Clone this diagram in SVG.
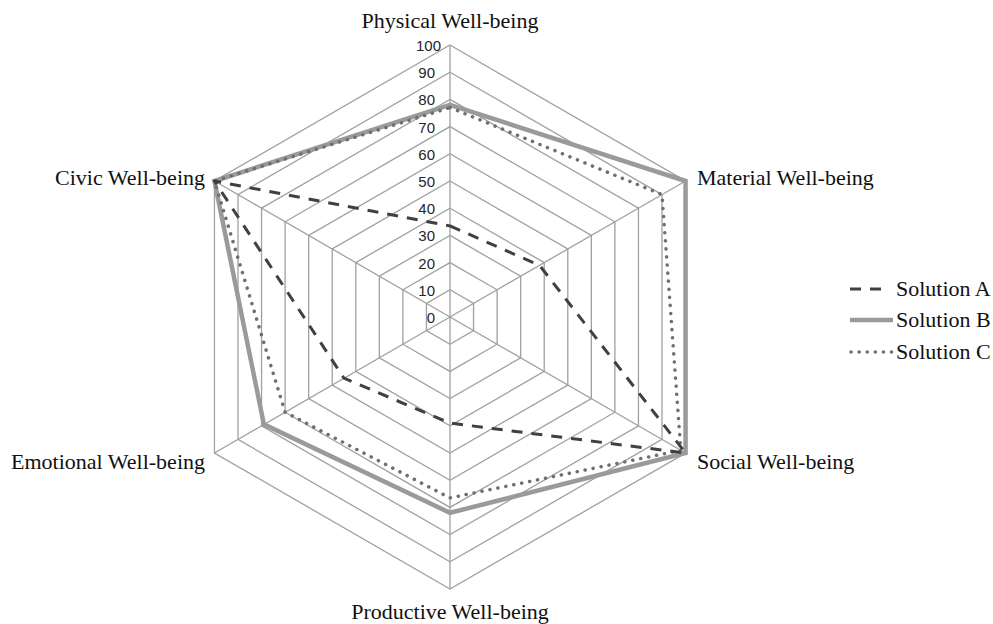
<svg xmlns="http://www.w3.org/2000/svg" width="993" height="624" viewBox="0 0 993 624">
<style>
.grid{fill:none;stroke:#a0a0a0;stroke-width:1.3}
.tick{font-family:"Liberation Sans",Arial,sans-serif;font-size:15px;fill:#262626;text-anchor:end}
.lbl{font-family:"Liberation Serif","Times New Roman",serif;font-size:22px;fill:#111}
.sa{fill:none;stroke:#404040;stroke-width:3;stroke-dasharray:11 9;stroke-linejoin:round}
.sb{fill:none;stroke:#9a9a9a;stroke-width:4.5;stroke-linejoin:miter}
.sc{fill:none;stroke:#6f6f6f;stroke-width:3.5;stroke-dasharray:0.1 8;stroke-linecap:round}
</style>
<rect width="993" height="624" fill="#fff"/>
<g id="grid">
<polygon class="grid" points="450,289.8 473.56,303.4 473.56,330.6 450,344.2 426.44,330.6 426.44,303.4"/>
<polygon class="grid" points="450,262.6 497.11,289.8 497.11,344.2 450,371.4 402.89,344.2 402.89,289.8"/>
<polygon class="grid" points="450,235.4 520.67,276.2 520.67,357.8 450,398.6 379.33,357.8 379.33,276.2"/>
<polygon class="grid" points="450,208.2 544.22,262.6 544.22,371.4 450,425.8 355.78,371.4 355.78,262.6"/>
<polygon class="grid" points="450,181 567.78,249 567.78,385 450,453 332.22,385 332.22,249"/>
<polygon class="grid" points="450,153.8 591.34,235.4 591.34,398.6 450,480.2 308.66,398.6 308.66,235.4"/>
<polygon class="grid" points="450,126.6 614.89,221.8 614.89,412.2 450,507.4 285.11,412.2 285.11,221.8"/>
<polygon class="grid" points="450,99.4 638.45,208.2 638.45,425.8 450,534.6 261.55,425.8 261.55,208.2"/>
<polygon class="grid" points="450,72.2 662,194.6 662,439.4 450,561.8 238,439.4 238,194.6"/>
<polygon class="grid" points="450,45 685.56,181 685.56,453 450,589 214.44,453 214.44,181"/>
<path class="grid" d="M450,317V45M450,317L685.56,181M450,317L685.56,453M450,317V589M450,317L214.44,453M450,317L214.44,181"/>
</g>
<g id="ticks">
<text class="tick" x="435" y="323">0</text>
<text class="tick" x="435" y="296">10</text>
<text class="tick" x="435" y="269">20</text>
<text class="tick" x="435" y="241">30</text>
<text class="tick" x="435" y="214">40</text>
<text class="tick" x="435" y="187">50</text>
<text class="tick" x="435" y="160">60</text>
<text class="tick" x="435" y="133">70</text>
<text class="tick" x="435" y="105">80</text>
<text class="tick" x="435" y="78">90</text>
<text class="tick" x="441" y="51">100</text>
</g>
<g id="axis-labels">
<text id="lbl-physical" class="lbl" x="450" y="28" text-anchor="middle">Physical Well-being</text>
<text id="lbl-material" class="lbl" x="697" y="185">Material Well-being</text>
<text id="lbl-social" class="lbl" x="697" y="469">Social Well-being</text>
<text id="lbl-productive" class="lbl" x="450" y="619" text-anchor="middle">Productive Well-being</text>
<text id="lbl-emotional" class="lbl" x="205" y="469" text-anchor="end">Emotional Well-being</text>
<text id="lbl-civic" class="lbl" x="205" y="185" text-anchor="end">Civic Well-being</text>
</g>
<g id="series">
<polygon id="solution-b" class="sb" points="450,104.8 685.56,181 685.56,453 450,512.8 263.9,424.4 214.44,181"/>
<polygon id="solution-c" class="sc" points="450,107.6 662,194.6 680.85,450.3 450,497.9 285.11,412.2 214.44,181"/>
<polygon id="solution-a" class="sa" points="450,225.9 539.5,265.3 685.56,453 450,423.1 344,378.2 214.44,181"/>
</g>
<g id="legend">
<line class="sa" x1="850" y1="289" x2="890" y2="289" stroke-dasharray="13 9"/>
<text class="lbl" x="896" y="296" font-size="21.5">Solution A</text>
<line class="sb" x1="850" y1="320" x2="893" y2="320"/>
<text class="lbl" x="896" y="327" font-size="21.5">Solution B</text>
<line class="sc" x1="851" y1="352" x2="893" y2="352"/>
<text class="lbl" x="896" y="359" font-size="21.5">Solution C</text>
</g>
</svg>
